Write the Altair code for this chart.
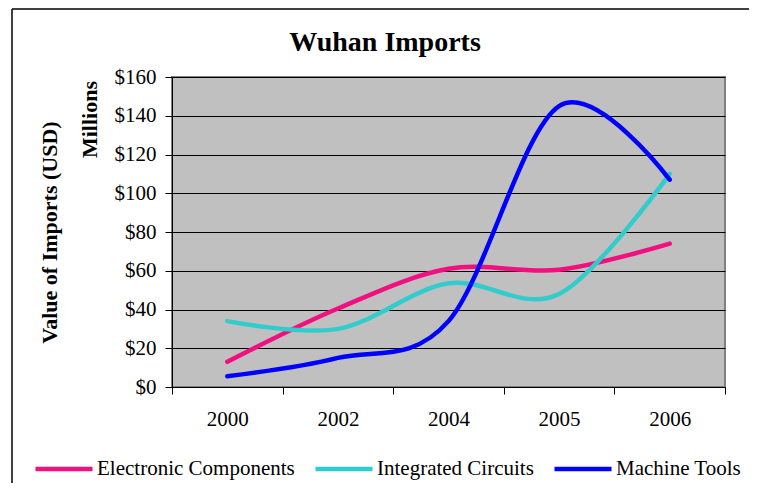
import altair as alt
import pandas as pd

years = ["2000", "2002", "2004", "2005", "2006"]
electronic = [13, 40.5, 61, 60.5, 74]
integrated = [34, 30, 53.5, 48, 110]
machine = [5.5, 15, 34, 145, 107]
series = ["Electronic Components", "Integrated Circuits", "Machine Tools"]
colors = ["#F0107F", "#33CCCC", "#0000FF"]
chart_title = "Wuhan Imports"

rows = []
for name, vals in zip(series, [electronic, integrated, machine]):
    for y, v in zip(years, vals):
        rows.append({"Year": y, "Value": v, "Series": name})
df = pd.DataFrame(rows)

FONT = "Liberation Serif"
W, H = 553, 310

lines = alt.Chart(df).mark_line(
    interpolate="cardinal", strokeWidth=4.5, strokeCap="round", strokeJoin="round"
).encode(
    x=alt.X("Year:N", sort=years,
            scale=alt.Scale(paddingInner=0, paddingOuter=0),
            axis=alt.Axis(title=None, labelAngle=0, tickBand="extent", tickSize=7,
                          tickColor="#000", domainColor="#000", labelPadding=14,
                          labelFont=FONT, labelFontSize=21, labelColor="#000", grid=False)),
    y=alt.Y("Value:Q", scale=alt.Scale(domain=[0, 160], nice=False),
            axis=alt.Axis(values=list(range(0, 161, 20)), format="$,.0f",
                          title="Value of Imports (USD)", titleFont=FONT, titleFontSize=22,
                          titleFontWeight="bold", titleColor="#000", titleAngle=270,
                          titleX=-123, titleY=H / 2, titleAlign="center", titleBaseline="middle",
                          labelFont=FONT, labelFontSize=21, labelColor="#000",
                          tickSize=7, tickColor="#000", labelPadding=9,
                          domainColor="#000", grid=True, gridColor="#000",
                          gridWidth=1, gridOpacity=1)),
    color=alt.Color("Series:N", scale=alt.Scale(domain=series, range=colors),
                    legend=alt.Legend(title=None, orient="none", direction="horizontal",
                                      legendX=-139, legendY=361, symbolType="stroke",
                                      symbolSize=3249, symbolStrokeWidth=4.5,
                                      labelFont=FONT, labelFontSize=21, labelColor="#000",
                                      labelOffset=2, columnPadding=11, labelLimit=400)),
)

millions = alt.Chart(pd.DataFrame({"t": ["Millions"]})).mark_text(
    angle=270, align="right", baseline="middle", font=FONT, fontSize=22,
    fontWeight="bold", color="#000"
).encode(text="t:N", x=alt.value(-82), y=alt.value(4))

title = alt.Chart(pd.DataFrame({"t": [chart_title]})).mark_text(
    align="center", baseline="alphabetic", font=FONT, fontSize=28,
    fontWeight="bold", color="#000"
).encode(text="t:N", x=alt.value(213), y=alt.value(-26))

frame_left = alt.Chart(pd.DataFrame({"a": [0]})).mark_rule(color="#000", strokeWidth=1.5).encode(
    x=alt.value(-160), y=alt.value(-68), y2=alt.value(420))
frame_top = alt.Chart(pd.DataFrame({"a": [0]})).mark_rule(color="#000", strokeWidth=1.5).encode(
    x=alt.value(-160), x2=alt.value(600), y=alt.value(-68))

chart = alt.layer(frame_left, frame_top, lines, millions, title).properties(
    width=W, height=H,
    autosize=alt.AutoSizeParams(type="none"),
    padding={"left": 164, "top": 69, "right": 24, "bottom": 96},
).configure_view(fill="#C0C0C0", stroke="#808080", strokeWidth=2)

chart.save("out.html", embed_options={"renderer": "svg", "actions": False})
